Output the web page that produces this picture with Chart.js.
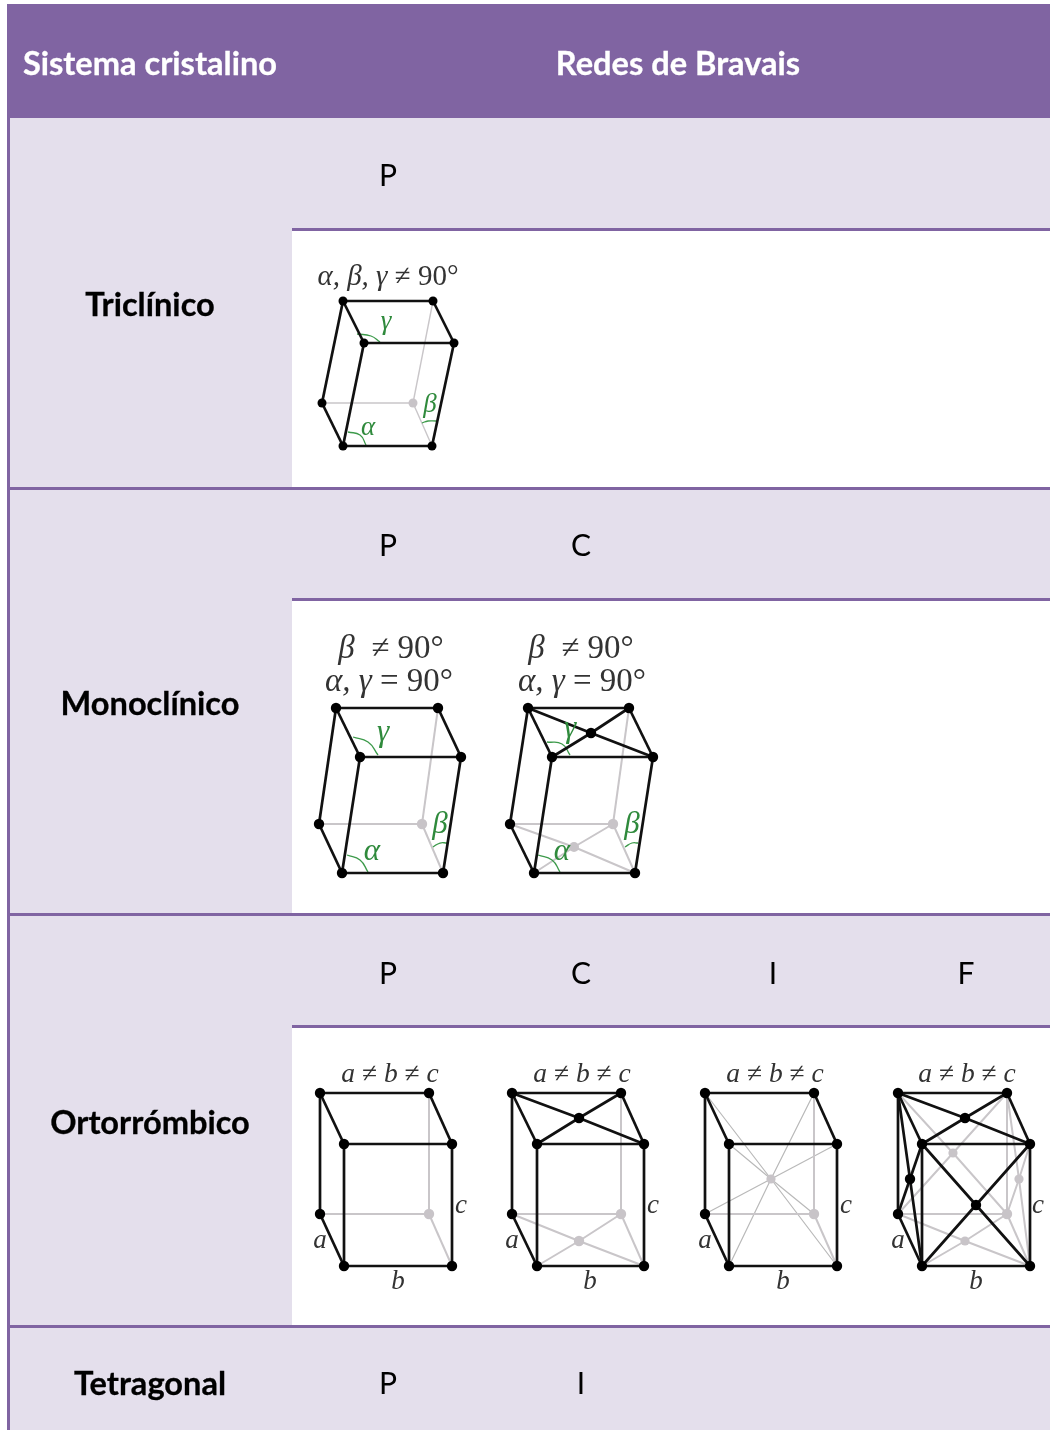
<!DOCTYPE html>
<html>
<head>
<meta charset="utf-8">
<title>Sistemas cristalinos</title>
<script src="https://cdn.jsdelivr.net/npm/chart.js@4"></script>
<style>
    html, body { margin: 0; padding: 0; background: #fff; }
    #page { position: relative; width: 1050px; height: 1430px; overflow: hidden; font-family: Lato, "Open Sans", sans-serif; color: #000; }
    .band { position: absolute; }
    .cell { position: absolute; transform: translate(-50%, -50%); white-space: nowrap; font-size: 30px; }
    .bold { font-weight: 700; font-size: 32.6px; -webkit-text-stroke: 0.3px currentColor; }
    .head { color: #fff; }
    #diagrams { position: absolute; left: 0; top: 0; width: 1050px; height: 1430px; filter: blur(0.6px); }
    #diagrams canvas { position: absolute; left: 0; top: 0; }
    .math { position: absolute; transform: translate(-50%, -50%); white-space: nowrap; font-family: "Liberation Serif", serif; color: #333; }
    .math i { font-style: italic; }
    .green { color: #2f8a3c; font-style: italic; }
</style>
</head>
<body>
<div id="page">
    <div id="bands"></div>
    <div id="diagrams"><canvas id="chart" width="1050" height="1430"></canvas></div>
    <div id="labels"></div>
</div>
<script>
// Table text
const SYSTEM_NAMES = ['Triclínico', 'Monoclínico', 'Ortorrómbico', 'Tetragonal'];
const HEADERS = ['Sistema cristalino', 'Redes de Bravais'];
const LATTICE_ROWS = [['P'], ['P', 'C'], ['P', 'C', 'I', 'F'], ['P', 'I']];

// Cube corners (picture units on the x and y scales)
// order: top back left, top back right, top front left, top front right,
//        bottom back left, bottom back right, bottom front left, bottom front right
const TRICLINIC_P = [[343,301],[433,301],[364,343],[454,343],[322,403],[413,403],[343,446],[432,446]];
const MONO_P = [[336,708],[438,708],[360,757],[461,757],[319,824],[422,824],[342,873],[443,873]];
const MONO_C = [[528,708],[629,708],[552,757],[653,757],[510,824],[613,824],[534,873],[635,873]];
const ORTHO_P = [[320,1093],[429,1093],[344,1144],[452,1144],[320,1214],[429,1214],[344,1266],[452,1266]];
const ORTHO_C = [[512,1093],[621,1093],[537,1144],[644,1144],[512,1214],[621,1214],[537,1266],[644,1266]];
const ORTHO_I = [[705,1093],[814,1093],[729,1144],[837,1144],[705,1214],[814,1214],[729,1266],[837,1266]];
const ORTHO_F = [[898,1093],[1007,1093],[922,1144],[1030,1144],[898,1214],[1007,1214],[922,1266],[1030,1266]];

// Face and body centres
const MONO_C_TOP = [591,733];
const MONO_C_BOTTOM = [574,847];
const ORTHO_C_TOP = [579,1118];
const ORTHO_C_BOTTOM = [579,1241];
const ORTHO_I_BODY = [771,1179];
const ORTHO_F_TOP = [965,1118];
const ORTHO_F_BOTTOM = [965,1241];
const ORTHO_F_FRONT = [976,1205];
const ORTHO_F_BACK = [953,1153];
const ORTHO_F_LEFT = [910,1179];
const ORTHO_F_RIGHT = [1019,1179];

// Angle arcs (three points each)
const ARCS = [
    [[357,334],[371,336],[380,342]], [[348,432],[360,435],[366,445]], [[422,423],[428,421],[436,421]],
    [[353,737],[368,742],[378,755]], [[347,855],[360,860],[368,872]], [[433,847],[440,843],[447,843]],
    [[547,742],[562,744],[570,755]], [[538,855],[552,860],[560,872]], [[625,847],[632,843],[638,843]]
];

// Which corners are joined
const FRONT_EDGES = [[0,1],[0,2],[1,3],[2,3],[0,4],[2,6],[3,7],[4,6],[6,7]];
const HIDDEN_EDGES = [[1,5],[4,5],[5,7]];

const INK = '#111111';
const GREY = '#c9c6c9';
const DOT_GREY = '#c8c4c8';
const GREEN = '#3c9a4a';
const INK_W = 2.7;
const GREY_W = 2;

const datasets = [];

function addLine(points, color, width, order, curved) {
    datasets.push({
        data: points.map(p => ({ x: p[0], y: p[1] })),
        showLine: true,
        borderColor: color,
        borderWidth: width,
        pointRadius: 0,
        tension: curved ? 0.5 : 0,
        order: order
    });
}

function addDots(points, color, radius) {
    datasets.push({
        data: points.map(p => ({ x: p[0], y: p[1] })),
        showLine: false,
        backgroundColor: color,
        borderWidth: 0,
        pointRadius: radius,
        order: 0
    });
}

// Draw one cell: grey corner is number 5, all others are black
function addCube(v, radius, greyWidth) {
    FRONT_EDGES.forEach(e => addLine([v[e[0]], v[e[1]]], INK, INK_W, 2));
    HIDDEN_EDGES.forEach(e => addLine([v[e[0]], v[e[1]]], GREY, greyWidth, 4));
    addDots(v.filter((p, i) => i !== 5), '#000', radius);
    addDots([v[5]], DOT_GREY, radius);
}

// Cross on a face: two diagonals through the centre
function addCross(a, b, c, d, centre, color, width, order) {
    addLine([a, centre, b], color, width, order);
    addLine([c, centre, d], color, width, order);
}

ARCS.forEach(a => addLine(a, GREEN, 1.3, 3, true));

addCube(TRICLINIC_P, 4.5, 1.4);
addCube(MONO_P, 5.2, GREY_W);
addCube(MONO_C, 5.2, GREY_W);
addCube(ORTHO_P, 5.2, GREY_W);
addCube(ORTHO_C, 5.2, GREY_W);
addCube(ORTHO_I, 5.2, GREY_W);
addCube(ORTHO_F, 5.2, GREY_W);

// Monoclinic C
addCross(MONO_C[0], MONO_C[3], MONO_C[1], MONO_C[2], MONO_C_TOP, INK, INK_W, 2);
addCross(MONO_C[4], MONO_C[7], MONO_C[5], MONO_C[6], MONO_C_BOTTOM, GREY, GREY_W, 4);
addDots([MONO_C_TOP], '#000', 5.2);
addDots([MONO_C_BOTTOM], DOT_GREY, 5);

// Orthorhombic C
addCross(ORTHO_C[0], ORTHO_C[3], ORTHO_C[1], ORTHO_C[2], ORTHO_C_TOP, INK, INK_W, 2);
addCross(ORTHO_C[4], ORTHO_C[7], ORTHO_C[5], ORTHO_C[6], ORTHO_C_BOTTOM, GREY, GREY_W, 4);
addDots([ORTHO_C_TOP], '#000', 5.2);
addDots([ORTHO_C_BOTTOM], DOT_GREY, 5.2);

// Orthorhombic I
addCross(ORTHO_I[0], ORTHO_I[7], ORTHO_I[1], ORTHO_I[6], ORTHO_I_BODY, '#b9b9b9', 1.2, 4);
addCross(ORTHO_I[2], ORTHO_I[5], ORTHO_I[3], ORTHO_I[4], ORTHO_I_BODY, '#b9b9b9', 1.2, 4);
addDots([ORTHO_I_BODY], DOT_GREY, 4.6);

// Orthorhombic F
const f = ORTHO_F;
addCross(f[0], f[3], f[1], f[2], ORTHO_F_TOP, INK, INK_W, 2);
addCross(f[2], f[7], f[3], f[6], ORTHO_F_FRONT, INK, INK_W, 2);
addCross(f[0], f[6], f[2], f[4], ORTHO_F_LEFT, INK, INK_W, 2);
addCross(f[4], f[7], f[5], f[6], ORTHO_F_BOTTOM, GREY, GREY_W, 4);
addCross(f[0], f[5], f[1], f[4], ORTHO_F_BACK, GREY, GREY_W, 4);
addCross(f[1], f[7], f[3], f[5], ORTHO_F_RIGHT, GREY, GREY_W, 4);
addDots([ORTHO_F_TOP, ORTHO_F_FRONT, ORTHO_F_LEFT], '#000', 5.2);
addDots([ORTHO_F_BOTTOM, ORTHO_F_BACK, ORTHO_F_RIGHT], DOT_GREY, 4.6);

new Chart(document.getElementById('chart'), {
    type: 'scatter',
    data: { datasets: datasets },
    options: {
        responsive: false,
        animation: false,
        events: [],
        layout: { padding: 0, autoPadding: false },
        plugins: { legend: { display: false }, tooltip: { enabled: false } },
        scales: {
            x: { type: 'linear', min: 0, max: 1050, display: false },
            y: { type: 'linear', min: 0, max: 1430, reverse: true, display: false }
        }
    }
});

// Table background
const PURPLE = '#8064A2';
const LILAC = '#E4DFEC';
const bandBoxes = [
    [7, 4, 1043, 114, PURPLE],
    [10, 118, 1040, 1312, LILAC],
    [292, 230, 758, 257, '#fff'],
    [292, 600, 758, 313, '#fff'],
    [292, 1027, 758, 298, '#fff'],
    [7, 118, 3, 1312, PURPLE],
    [292, 228, 758, 2.5, PURPLE],
    [10, 487, 1040, 2.5, PURPLE],
    [292, 598, 758, 2.5, PURPLE],
    [10, 913, 1040, 2.5, PURPLE],
    [292, 1025, 758, 2.5, PURPLE],
    [10, 1325, 1040, 2.5, PURPLE]
];
const bands = document.getElementById('bands');
bandBoxes.forEach(b => {
    const el = document.createElement('div');
    el.className = 'band';
    el.style.cssText = `left:${b[0]}px;top:${b[1]}px;width:${b[2]}px;height:${b[3]}px;background:${b[4]}`;
    bands.appendChild(el);
});

// Table labels
const labels = document.getElementById('labels');
function addCell(text, x, y, cls) {
    const el = document.createElement('div');
    el.className = 'cell ' + cls;
    el.style.left = x + 'px';
    el.style.top = y + 'px';
    el.textContent = text;
    labels.appendChild(el);
}
addCell(HEADERS[0], 150, 62, 'bold head');
addCell(HEADERS[1], 678, 62, 'bold head');
const rowY = [303, 702, 1121, 1382];
const latticeY = [174, 544, 972, 1382];
const latticeX = { P: 388, C: 581, I: 773, F: 966 };
SYSTEM_NAMES.forEach((name, i) => {
    addCell(name, 150, rowY[i], 'bold');
    LATTICE_ROWS[i].forEach((l, j) => {
        addCell(l, i === 3 && j === 1 ? 581 : latticeX[l], latticeY[i], '');
    });
});

// Formulas and angle names over the drawings
const diagrams = document.getElementById('diagrams');
function addMath(html, x, y, size, cls) {
    const el = document.createElement('div');
    el.className = 'math ' + (cls || '');
    el.style.left = x + 'px';
    el.style.top = y + 'px';
    el.style.fontSize = size + 'px';
    el.innerHTML = html;
    diagrams.appendChild(el);
}
addMath('<i>α, β, γ</i> ≠ 90°', 388, 275, 29);
addMath('<i>β</i> &nbsp;≠ 90°', 391, 647, 33);
addMath('<i>α, γ</i> = 90°', 389, 680, 33);
addMath('<i>β</i> &nbsp;≠ 90°', 581, 647, 33);
addMath('<i>α, γ</i> = 90°', 582, 680, 33);
[390, 582, 775, 967].forEach(x => addMath('<i>a</i> ≠ <i>b</i> ≠ <i>c</i>', x, 1073, 27.5));
[320, 512, 705, 898].forEach(x => addMath('<i>a</i>', x, 1239, 27));
[461, 653, 846, 1038].forEach(x => addMath('<i>c</i>', x, 1204, 27));
[398, 590, 783, 976].forEach(x => addMath('<i>b</i>', x, 1280, 27));
[[386, 320, 'γ'], [430, 403, 'β'], [368, 426, 'α'], [383, 731, 'γ'], [440, 823, 'β'], [372, 850, 'α'],
 [570, 727, 'γ'], [632, 823, 'β'], [562, 850, 'α']].forEach((g, i) => {
    addMath(g[2], g[0], g[1], i < 3 ? 27 : 31, 'green');
});
</script>
</body>
</html>
